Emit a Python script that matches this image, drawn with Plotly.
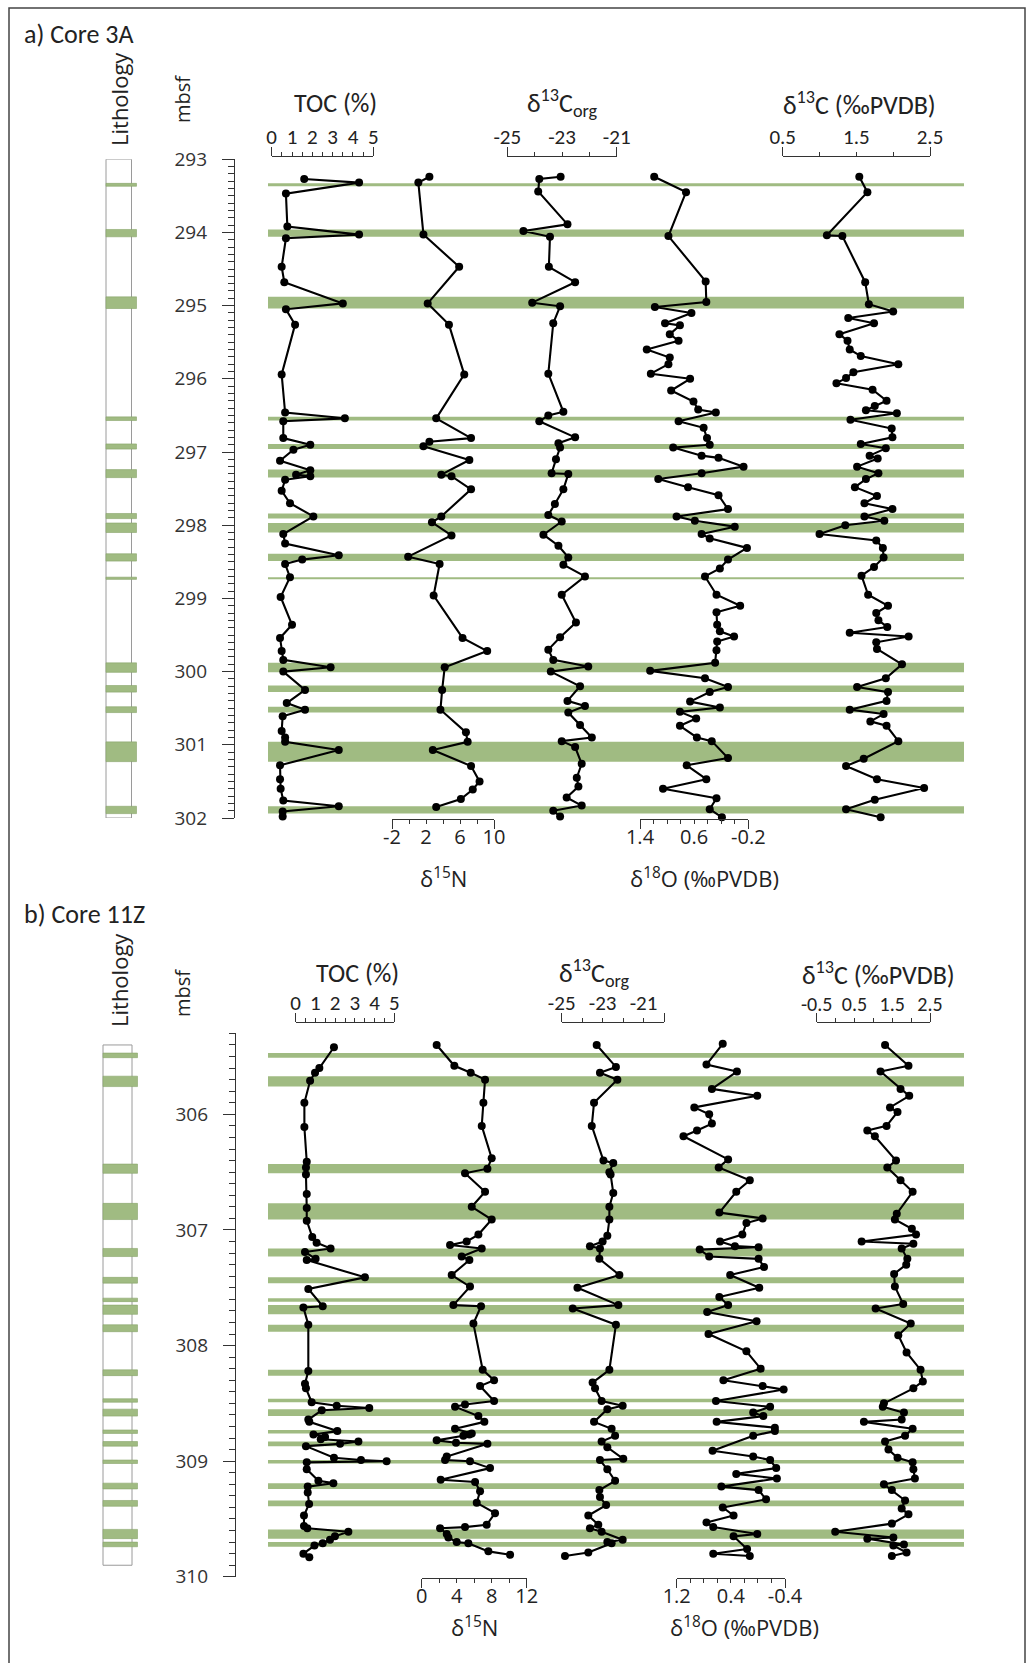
import plotly.graph_objects as go

W, H = 1028, 1663

# ---------------- Core 3A ----------------
A_TOC_DEPTH = [293.27, 293.32, 293.47, 293.92, 294.03, 294.08, 294.47, 294.68, 294.97, 295.05,
               295.26, 295.94, 296.46, 296.54, 296.58, 296.81, 296.90, 296.97, 297.12, 297.25,
               297.31, 297.33, 297.38, 297.53, 297.70, 297.88, 298.12, 298.25, 298.41, 298.47,
               298.53, 298.71, 298.98, 299.36, 299.54, 299.72, 299.84, 299.94, 300.00, 300.25,
               300.43, 300.52, 300.61, 300.81, 300.90, 300.96, 301.07, 301.28, 301.47, 301.60,
               301.76, 301.84, 301.91, 301.98]
A_TOC = [1.6, 4.3, 0.7, 0.77, 4.3, 0.7, 0.49, 0.62, 3.5, 0.7,
         1.15, 0.49, 0.66, 3.6, 0.57, 0.57, 1.9, 1.07, 0.41, 1.9,
         1.2, 1.9, 0.66, 0.49, 0.9, 2.05, 0.57, 0.66, 3.3, 1.5,
         0.66, 0.9, 0.44, 1.0, 0.41, 0.49, 0.57, 2.9, 0.57, 1.64,
         0.74, 1.64, 0.54, 0.49, 0.66, 0.66, 3.3, 0.41, 0.41, 0.44,
         0.57, 3.3, 0.54, 0.54]

A_N15_DEPTH = [293.24, 293.32, 294.03, 294.47, 294.97, 295.26, 295.94, 296.54, 296.81, 296.86,
               296.92, 297.11, 297.31, 297.33, 297.51, 297.88, 297.96, 298.14, 298.43, 298.53,
               298.96, 299.54, 299.72, 299.94, 300.25, 300.52, 300.83, 300.96, 301.07, 301.29,
               301.50, 301.61, 301.74, 301.85]
A_N15 = [2.4, 1.1, 1.7, 5.9, 2.2, 4.7, 6.5, 3.2, 7.3, 2.4,
         1.7, 7.1, 3.8, 5.0, 7.3, 3.8, 2.7, 5.0, -0.1, 3.6,
         2.9, 6.3, 9.2, 4.2, 3.9, 3.7, 6.7, 6.9, 2.8, 7.3,
         8.3, 7.5, 6.1, 3.2]

A_CORG_DEPTH = [293.24, 293.27, 293.44, 293.89, 293.98, 294.06, 294.47, 294.68, 294.96, 295.01,
                295.24, 295.93, 296.45, 296.50, 296.58, 296.80, 296.88, 296.94, 297.10, 297.29,
                297.30, 297.51, 297.71, 297.86, 297.95, 298.13, 298.28, 298.44, 298.54, 298.70,
                298.95, 299.33, 299.53, 299.70, 299.84, 299.93, 300.00, 300.20, 300.40, 300.47,
                300.56, 300.73, 300.90, 300.95, 301.03, 301.26, 301.45, 301.57, 301.72, 301.83,
                301.90, 301.98]
A_CORG = [-23.05, -23.83, -23.87, -22.80, -24.41, -23.44, -23.48, -22.52, -24.09, -23.07,
          -23.32, -23.50, -22.95, -23.50, -23.83, -22.52, -23.13, -23.07, -23.22, -23.38,
          -22.77, -22.95, -23.26, -23.50, -23.01, -23.68, -23.13, -22.77, -22.95, -22.16,
          -23.01, -22.49, -23.07, -23.50, -23.32, -22.04, -23.41, -22.34, -22.80, -22.16,
          -22.77, -22.34, -21.91, -23.01, -22.52, -22.28, -22.46, -22.40, -22.83, -22.28,
          -23.32, -23.07]

A_O18_DEPTH = [293.24, 293.45, 294.05, 294.67, 294.95, 295.02, 295.10, 295.24, 295.27, 295.39,
               295.48, 295.60, 295.71, 295.80, 295.93, 296.00, 296.16, 296.31, 296.42, 296.46,
               296.58, 296.67, 296.81, 296.90, 296.94, 297.05, 297.08, 297.20, 297.29, 297.37,
               297.48, 297.59, 297.78, 297.88, 297.94, 298.02, 298.12, 298.18, 298.31, 298.47,
               298.59, 298.70, 298.95, 299.10, 299.19, 299.36, 299.45, 299.52, 299.59, 299.71,
               299.88, 299.99, 300.09, 300.21, 300.28, 300.41, 300.49, 300.55, 300.64, 300.74,
               300.90, 300.95, 301.18, 301.28, 301.47, 301.60, 301.73, 301.88, 301.99]
A_O18 = [1.19, 0.72, 0.98, 0.43, 0.42, 1.18, 0.64, 1.03, 0.81, 0.96,
         0.83, 1.30, 0.96, 0.98, 1.24, 0.66, 0.94, 0.61, 0.54, 0.28,
         0.83, 0.46, 0.41, 0.37, 0.91, 0.49, 0.24, -0.13, 0.49, 1.13,
         0.69, 0.24, 0.10, 0.86, 0.59, 0.00, 0.49, 0.37, -0.18, 0.10,
         0.22, 0.44, 0.27, -0.08, 0.27, 0.26, 0.22, 0.01, 0.26, 0.27,
         0.29, 1.25, 0.44, 0.10, 0.37, 0.66, 0.22, 0.81, 0.57, 0.81,
         0.56, 0.34, 0.10, 0.71, 0.42, 1.06, 0.27, 0.37, 0.19]

A_C13_DEPTH = [293.24, 293.45, 294.04, 294.05, 294.68, 294.98, 295.08, 295.17, 295.24, 295.39,
               295.48, 295.60, 295.69, 295.80, 295.91, 295.99, 296.06, 296.15, 296.30, 296.37,
               296.43, 296.47, 296.56, 296.68, 296.80, 296.89, 296.95, 297.05, 297.09, 297.20,
               297.29, 297.37, 297.48, 297.60, 297.70, 297.78, 297.88, 297.94, 298.00, 298.12,
               298.21, 298.31, 298.44, 298.57, 298.69, 298.95, 299.10, 299.20, 299.30, 299.39,
               299.47, 299.52, 299.60, 299.69, 299.90, 300.09, 300.21, 300.28, 300.40, 300.52,
               300.58, 300.68, 300.74, 300.95, 301.19, 301.29, 301.47, 301.59, 301.75, 301.88,
               301.99]
A_C13 = [1.54, 1.65, 1.10, 1.31, 1.62, 1.67, 2.00, 1.39, 1.74, 1.27,
         1.38, 1.41, 1.56, 2.07, 1.46, 1.36, 1.23, 1.72, 1.91, 1.75,
         1.63, 2.05, 1.42, 1.98, 1.99, 1.56, 1.90, 1.68, 1.79, 1.51,
         1.80, 1.63, 1.48, 1.78, 1.61, 1.99, 1.61, 1.88, 1.35, 1.00,
         1.77, 1.86, 1.87, 1.74, 1.57, 1.66, 1.93, 1.77, 1.80, 1.92,
         1.41, 2.21, 1.77, 1.78, 2.12, 1.90, 1.51, 1.93, 1.91, 1.41,
         1.87, 1.69, 1.91, 2.07, 1.60, 1.36, 1.78, 2.42, 1.75, 1.36,
         1.83]

# green (organic-rich) layers, top / base depth
A_LAYER_TOP = [293.33, 293.96, 294.88, 296.52, 296.89, 297.24, 297.84, 297.97, 298.39, 298.71,
               299.88, 300.19, 300.48, 300.96, 301.84]
A_LAYER_BASE = [293.37, 294.06, 295.04, 296.57, 296.96, 297.35, 297.91, 298.10, 298.49, 298.74,
                300.01, 300.28, 300.56, 301.23, 301.94]
A_CORE_TOP, A_CORE_BASE = 293.0, 302.0

# ---------------- Core 11Z ----------------
B_TOC_DEPTH = [305.42, 305.60, 305.64, 305.71, 305.90, 306.11, 306.41, 306.46, 306.52, 306.69,
               306.81, 306.92, 307.06, 307.11, 307.16, 307.19, 307.25, 307.26, 307.41, 307.51,
               307.66, 307.67, 307.82, 308.22, 308.33, 308.37, 308.49, 308.52, 308.54, 308.56,
               308.64, 308.66, 308.74, 308.77, 308.79, 308.81, 308.83, 308.85, 308.87, 308.97,
               308.99, 309.00, 309.01, 309.07, 309.17, 309.19, 309.22, 309.27, 309.37, 309.47,
               309.56, 309.58, 309.61, 309.65, 309.68, 309.71, 309.73, 309.80, 309.83]
B_TOC = [1.94, 1.20, 0.98, 0.73, 0.44, 0.44, 0.56, 0.52, 0.52, 0.56,
         0.56, 0.56, 0.84, 1.06, 1.77, 0.47, 1.01, 0.56, 3.51, 0.64,
         1.37, 0.39, 0.64, 0.64, 0.47, 0.52, 0.81, 2.08, 3.73, 1.32,
         0.64, 0.69, 2.11, 0.90, 1.49, 1.27, 3.18, 2.25, 0.52, 1.94,
         3.31, 4.61, 0.56, 0.56, 1.15, 1.91, 0.61, 0.61, 0.68, 0.42,
         0.42, 0.59, 2.67, 1.99, 1.74, 1.37, 0.95, 0.39, 0.69]

B_N15_DEPTH = [305.40, 305.58, 305.64, 305.70, 305.90, 306.10, 306.38, 306.47, 306.51, 306.67,
               306.80, 306.91, 307.04, 307.10, 307.13, 307.16, 307.23, 307.26, 307.39, 307.49,
               307.65, 307.66, 307.81, 308.21, 308.30, 308.35, 308.48, 308.51, 308.53, 308.61,
               308.66, 308.72, 308.76, 308.77, 308.78, 308.82, 308.84, 308.85, 308.96, 308.99,
               309.00, 309.06, 309.16, 309.18, 309.26, 309.36, 309.45, 309.55, 309.57, 309.58,
               309.63, 309.66, 309.70, 309.71, 309.78, 309.81]
B_N15 = [1.71, 3.73, 5.60, 7.24, 7.05, 6.86, 8.00, 7.51, 4.95, 7.24,
         5.72, 8.00, 6.48, 5.14, 3.24, 6.86, 4.57, 5.45, 3.43, 5.52,
         3.62, 6.78, 5.91, 6.97, 8.27, 6.67, 8.27, 4.95, 3.81, 6.48,
         7.16, 3.81, 5.72, 5.45, 4.76, 1.71, 3.92, 7.51, 2.86, 2.67,
         5.52, 7.81, 2.17, 6.10, 6.67, 6.29, 8.38, 7.43, 4.95, 2.10,
         2.86, 3.05, 4.00, 5.33, 7.62, 10.10]

B_CORG_DEPTH = [305.40, 305.59, 305.64, 305.70, 305.90, 306.10, 306.40, 306.42, 306.50, 306.52,
                306.68, 306.80, 306.91, 307.05, 307.10, 307.14, 307.16, 307.25, 307.39, 307.50,
                307.65, 307.68, 307.82, 308.21, 308.32, 308.37, 308.48, 308.52, 308.55, 308.66,
                308.72, 308.78, 308.83, 308.88, 308.98, 308.99, 309.07, 309.17, 309.25, 309.31,
                309.38, 309.47, 309.55, 309.58, 309.61, 309.68, 309.70, 309.71, 309.79, 309.82]
B_CORG = [-23.29, -22.35, -23.13, -22.28, -23.42, -23.53, -22.96, -22.48, -22.67, -22.61,
          -22.48, -22.67, -22.67, -22.77, -23.00, -23.62, -23.13, -23.16, -22.18, -24.23,
          -22.23, -24.46, -22.35, -22.67, -23.49, -23.37, -23.05, -22.02, -22.77, -23.42,
          -22.56, -22.39, -23.05, -22.77, -21.99, -23.13, -22.77, -22.39, -23.16, -23.13,
          -22.83, -23.70, -23.21, -23.62, -23.05, -22.02, -22.77, -22.56, -23.70, -24.84]

B_O18_DEPTH = [305.39, 305.57, 305.63, 305.78, 305.84, 305.94, 306.00, 306.08, 306.14, 306.19,
               306.39, 306.46, 306.57, 306.67, 306.85, 306.90, 306.94, 307.04, 307.10, 307.14,
               307.15, 307.17, 307.23, 307.25, 307.32, 307.39, 307.50, 307.58, 307.65, 307.71,
               307.79, 307.90, 308.05, 308.20, 308.30, 308.35, 308.38, 308.48, 308.53, 308.58,
               308.61, 308.66, 308.71, 308.74, 308.78, 308.91, 308.96, 308.99, 309.06, 309.11,
               309.15, 309.22, 309.25, 309.33, 309.40, 309.47, 309.53, 309.57, 309.63, 309.65,
               309.76, 309.80, 309.82]
B_O18 = [0.52, 0.76, 0.31, 0.68, 0.01, 0.94, 0.72, 0.68, 0.90, 1.10,
         0.44, 0.58, 0.12, 0.32, 0.57, -0.07, 0.17, 0.23, 0.56, 0.34,
         -0.01, 0.86, 0.72, -0.01, -0.09, 0.41, -0.02, 0.57, 0.44, 0.75,
         0.02, 0.73, 0.17, -0.04, 0.51, -0.07, -0.38, 0.62, -0.18, 0.07,
         -0.08, 0.61, -0.25, -0.25, 0.07, 0.67, 0.07, -0.18, -0.27, 0.32,
         -0.28, 0.54, -0.01, -0.12, 0.52, 0.36, 0.76, 0.66, 0.01, 0.36,
         0.16, 0.66, 0.12]

B_C13_DEPTH = [305.40, 305.58, 305.63, 305.78, 305.84, 305.94, 305.98, 306.10, 306.14, 306.19,
               306.40, 306.46, 306.57, 306.67, 306.86, 306.91, 306.99, 307.04, 307.10, 307.12,
               307.16, 307.25, 307.30, 307.38, 307.49, 307.64, 307.68, 307.81, 307.91, 308.06,
               308.21, 308.31, 308.37, 308.50, 308.53, 308.58, 308.64, 308.66, 308.72, 308.78,
               308.83, 308.90, 308.97, 309.01, 309.07, 309.15, 309.20, 309.25, 309.34, 309.41,
               309.46, 309.54, 309.61, 309.66, 309.67, 309.72, 309.73, 309.79, 309.82]
B_C13 = [1.31, 1.93, 1.19, 1.72, 1.95, 1.44, 1.64, 1.35, 0.84, 1.04,
         1.60, 1.37, 1.72, 2.04, 1.62, 1.57, 2.02, 2.13, 0.69, 2.06,
         1.75, 1.90, 1.87, 1.55, 1.57, 1.79, 1.06, 1.99, 1.66, 1.88,
         2.25, 2.31, 2.06, 1.28, 1.25, 1.81, 1.75, 0.75, 2.04, 1.84,
         1.31, 1.40, 1.64, 2.04, 2.06, 2.10, 1.28, 1.49, 1.84, 1.75,
         1.93, 1.49, -0.01, 1.53, 0.84, 1.81, 1.53, 1.88, 1.49]

B_LAYER_TOP = [305.47, 305.67, 306.43, 306.77, 307.16, 307.41, 307.59, 307.65, 307.82, 308.21,
               308.46, 308.55, 308.73, 308.83, 308.99, 309.19, 309.34, 309.59, 309.70]
B_LAYER_BASE = [305.51, 305.76, 306.51, 306.91, 307.23, 307.46, 307.62, 307.73, 307.88, 308.26,
                308.49, 308.61, 308.76, 308.87, 309.02, 309.24, 309.39, 309.67, 309.74]
B_CORE_TOP, B_CORE_BASE = 305.40, 309.90

# ---------------- styling ----------------
NARROW = "Carlito, 'Liberation Sans Narrow', Roboto, sans-serif"
WIDE = "'Open Sans', 'DejaVu Sans', sans-serif"
AX = "#333333"
TXT = "#222222"
GREEN = "#a0bb82"
GREEN_EDGE = "#88a46a"


def fx(p):
    return p / W


def fy(p):
    return 1 - p / H


def depth_axis(top_px, bot_px, rng, x_px, tick0):
    return dict(domain=[fy(bot_px), fy(top_px)], range=rng, anchor="free", position=fx(x_px),
                side="left", showline=True, linecolor=AX, linewidth=1.3,
                ticks="outside", ticklen=12, tickwidth=1.3, tickcolor=AX,
                tickmode="linear", tick0=tick0, dtick=1, ticklabelstandoff=11,
                minor=dict(ticks="outside", ticklen=6, tickwidth=1, tickcolor=AX,
                           dtick=0.1, tick0=tick0, showgrid=False),
                tickfont=dict(family=WIDE, size=19, color=AX),
                showgrid=False, zeroline=False, automargin=False, fixedrange=True)


def value_axis(x0_px, x1_px, rng, tickvals, minor_dtick, pos_px, side, font, standoff):
    return dict(domain=[fx(x0_px), fx(x1_px)], range=rng, anchor="free", position=fy(pos_px),
                side=side, showline=True, linecolor=AX, linewidth=1.3,
                ticks="outside", ticklen=4, tickwidth=1.2, tickcolor=AX,
                tickmode="array", tickvals=tickvals, ticktext=[f"{v:g}" for v in tickvals],
                ticklabelstandoff=standoff,
                minor=dict(ticks="outside", ticklen=4, tickwidth=1.2, tickcolor=AX,
                           tickmode="linear", dtick=minor_dtick, tick0=tickvals[0],
                           showgrid=False),
                tickfont=font, showgrid=False, zeroline=False, automargin=False,
                fixedrange=True)


def end_ticks(axis):
    # taller ticks closing both ends of a scale bar
    return dict(domain=axis["domain"], range=axis["range"], anchor="free",
                position=axis["position"], side=axis["side"], showline=False,
                ticks="outside", ticklen=9, tickwidth=1.3, tickcolor=AX,
                tickmode="array", tickvals=list(axis["range"]), showticklabels=False,
                showgrid=False, zeroline=False, automargin=False, fixedrange=True)


top_font = dict(family=NARROW, size=21, color=TXT)
top_font_small = dict(family=NARROW, size=20, color=TXT)
bot_font = dict(family=WIDE, size=20, color=TXT)

value_axes = {
    # Core 3A profiles
    "xaxis": value_axis(271.7, 373.3, [0, 5], [0, 1, 2, 3, 4, 5], 0.5, 156, "top", top_font, -1),
    "xaxis2": value_axis(392.0, 494.0, [-2, 10], [-2, 2, 6, 10], 2, 819, "bottom", bot_font, -4),
    "xaxis3": value_axis(507.3, 616.7, [-25, -21], [-25, -23, -21], 1, 156, "top", top_font, -1),
    "xaxis4": value_axis(640.0, 748.3, [1.4, -0.2], [1.4, 0.6, -0.2], 0.2, 819, "bottom", bot_font, -4),
    "xaxis5": value_axis(782.7, 930.0, [0.5, 2.5], [0.5, 1.5, 2.5], 0.5, 156, "top", top_font, -1),
    # Core 11Z profiles
    "xaxis6": value_axis(295.7, 394.3, [0, 5], [0, 1, 2, 3, 4, 5], 0.5, 1022, "top", top_font, -1),
    "xaxis7": value_axis(421.7, 526.7, [0, 12], [0, 4, 8, 12], 2, 1578, "bottom", bot_font, -4),
    "xaxis8": value_axis(561.7, 664.0, [-25, -20], [-25, -23, -21], 1, 1022, "top", top_font, -1),
    "xaxis9": value_axis(676.7, 785.0, [1.2, -0.4], [1.2, 0.4, -0.4], 0.2, 1578, "bottom", bot_font, -4),
    "xaxis10": value_axis(816.7, 930.0, [-0.5, 2.5], [-0.5, 0.5, 1.5, 2.5], 0.5, 1022, "top",
                          top_font_small, -1),
}

fig = go.Figure()

panels = [
    ("y", [("x", A_TOC, A_TOC_DEPTH), ("x2", A_N15, A_N15_DEPTH), ("x3", A_CORG, A_CORG_DEPTH),
           ("x4", A_O18, A_O18_DEPTH), ("x5", A_C13, A_C13_DEPTH)]),
    ("y2", [("x6", B_TOC, B_TOC_DEPTH), ("x7", B_N15, B_N15_DEPTH), ("x8", B_CORG, B_CORG_DEPTH),
            ("x9", B_O18, B_O18_DEPTH), ("x10", B_C13, B_C13_DEPTH)]),
]
for yax, series in panels:
    for xax, vals, depths in series:
        fig.add_trace(go.Scatter(
            x=vals, y=depths, xaxis=xax, yaxis=yax, mode="lines+markers",
            line=dict(color="black", width=2.1),
            marker=dict(color="black", size=8),
            cliponaxis=False, showlegend=False, hoverinfo="skip"))

# end-tick overlay axes (x11..x20), each tied to its panel through an empty trace
extra_axes = {}
for i in range(1, 11):
    src = "xaxis" if i == 1 else f"xaxis{i}"
    extra_axes[f"xaxis{10 + i}"] = end_ticks(value_axes[src])
    fig.add_trace(go.Scatter(x=[], y=[], xaxis=f"x{10 + i}", yaxis="y" if i <= 5 else "y2",
                             mode="markers", showlegend=False, hoverinfo="skip"))

shapes = []


def add_layers(yref, tops, bases, core_top, core_base, box_x0, box_x1, lith_x1):
    # lithology column
    shapes.append(dict(type="rect", xref="paper", yref=yref, x0=fx(box_x0), x1=fx(box_x1),
                       y0=core_top, y1=core_base, fillcolor="white",
                       line=dict(color="#9a9a9a", width=1), layer="below"))
    for t, b in zip(tops, bases):
        # band across the profiles
        shapes.append(dict(type="rect", xref="paper", yref=yref, x0=fx(268), x1=fx(964),
                           y0=t, y1=b, fillcolor=GREEN, line=dict(width=0), layer="below"))
        # layer in the lithology column
        shapes.append(dict(type="rect", xref="paper", yref=yref, x0=fx(box_x0), x1=fx(lith_x1),
                           y0=t, y1=b, fillcolor=GREEN, line=dict(color=GREEN_EDGE, width=0.6),
                           layer="below"))


add_layers("y", A_LAYER_TOP, A_LAYER_BASE, A_CORE_TOP, A_CORE_BASE, 106, 131.5, 136.5)
add_layers("y2", B_LAYER_TOP, B_LAYER_BASE, B_CORE_TOP, B_CORE_BASE, 103, 132, 137.5)

# outer frame
shapes.append(dict(type="rect", xref="paper", yref="paper", x0=fx(9), x1=fx(1025),
                   y0=fy(1700), y1=fy(8), line=dict(color="#444444", width=1.5),
                   fillcolor="rgba(0,0,0,0)", layer="above"))


def ann(text, x_px, y_px, size, family, angle=0, xanchor="center"):
    return dict(text=text, x=fx(x_px), y=fy(y_px), xref="paper", yref="paper",
                showarrow=False, textangle=angle, xanchor=xanchor, yanchor="middle",
                font=dict(size=size, family=family, color=TXT))


D13CORG = "δ<sup>13</sup>C<sub>org</sub>"
D13C = "δ<sup>13</sup>C (‰PVDB)"
D15N = "δ<sup>15</sup>N"
D18O = "δ<sup>18</sup>O (‰PVDB)"

annotations = [
    ann("a) Core 3A", 22, 34, 26, NARROW, xanchor="left"),
    ann("Lithology", 119, 99, 22, WIDE, angle=-90),
    ann("mbsf", 182, 99, 20, WIDE, angle=-90),
    ann("TOC (%)", 335, 103, 26, NARROW),
    ann(D13CORG, 562, 103, 26, NARROW),
    ann(D13C, 859, 103, 26, NARROW),
    ann(D15N, 443, 877, 22, WIDE),
    ann(D18O, 704, 877, 22, WIDE),
    ann("b) Core 11Z", 22, 914, 26, NARROW, xanchor="left"),
    ann("Lithology", 119, 980, 22, WIDE, angle=-90),
    ann("mbsf", 182, 993, 20, WIDE, angle=-90),
    ann("TOC (%)", 357, 973, 26, NARROW),
    ann(D13CORG, 594, 973, 26, NARROW),
    ann(D13C, 878, 973, 26, NARROW),
    ann(D15N, 474, 1626, 22, WIDE),
    ann(D18O, 744, 1626, 22, WIDE),
]

fig.update_layout(
    template="none",
    width=W, height=H, margin=dict(l=0, r=0, t=0, b=0, pad=0, autoexpand=False),
    paper_bgcolor="white", plot_bgcolor="rgba(0,0,0,0)",
    showlegend=False, shapes=shapes, annotations=annotations,
    yaxis=depth_axis(159.2, 818.0, [302, 293], 234, 293),
    yaxis2=depth_axis(1033.4, 1576.8, [310, 305.3], 235, 305),
    **value_axes, **extra_axes,
)

fig.write_html("out.html")
